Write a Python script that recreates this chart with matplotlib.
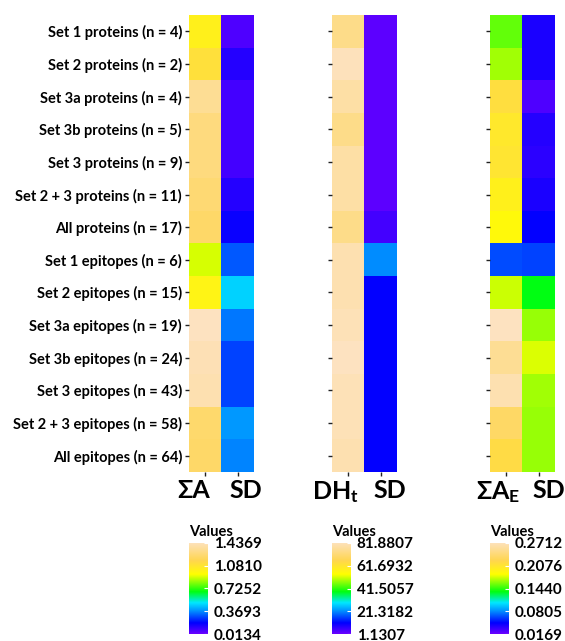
import numpy as np
import matplotlib
matplotlib.use("Agg")
import matplotlib.pyplot as plt
from matplotlib.colors import LinearSegmentedColormap

plt.rcParams['font.family'] = ['Lato', 'DejaVu Sans']
plt.rcParams['font.weight'] = 'bold'
plt.rcParams['mathtext.fontset'] = 'custom'
plt.rcParams['mathtext.rm'] = 'Lato:bold'
plt.rcParams['mathtext.it'] = 'Lato:bold'
plt.rcParams['mathtext.bf'] = 'Lato:bold'

rows = ["Set 1 proteins (n = 4)", "Set 2 proteins (n = 2)", "Set 3a proteins (n = 4)",
        "Set 3b proteins (n = 5)", "Set 3 proteins (n = 9)", "Set 2 + 3 proteins (n = 11)",
        "All proteins (n = 17)", "Set 1 epitopes (n = 6)", "Set 2 epitopes (n = 15)",
        "Set 3a epitopes (n = 19)", "Set 3b epitopes (n = 24)", "Set 3 epitopes (n = 43)",
        "Set 2 + 3 epitopes (n = 58)", "All epitopes (n = 64)"]

# heatmap 1: sum A and its SD
sum_a = [1.010, 1.095, 1.323, 1.266, 1.266, 1.238, 1.209,
         0.896, 0.996, 1.4369, 1.408, 1.394, 1.223, 1.209]
sum_a_sd = [0.060, 0.127, 0.075, 0.075, 0.080, 0.127, 0.170,
            0.298, 0.469, 0.341, 0.270, 0.270, 0.384, 0.355]

# heatmap 2: DHt and its SD
dht = [73.8, 81.07, 77.8, 73.8, 77.8, 77.8, 73.8,
       79.5, 79.5, 80.5, 81.88, 80.5, 80.5, 79.5]
dht_sd = [2.5, 2.5, 2.5, 2.5, 2.5, 2.5, 4.8,
          21.3, 10.8, 10.8, 10.8, 10.8, 10.8, 10.8]

# heatmap 3: sum A_E and its SD
sum_ae = [0.152, 0.164, 0.212, 0.203, 0.206, 0.195, 0.187,
          0.065, 0.172, 0.2712, 0.251, 0.264, 0.230, 0.215]
sum_ae_sd = [0.040, 0.040, 0.025, 0.037, 0.035, 0.040, 0.047,
             0.063, 0.134, 0.162, 0.175, 0.164, 0.162, 0.162]

col_labels = [["ΣA", "SD"], ["DH$_t$", "SD"], ["ΣA$_E$", "SD"]]

# colorbar ticks as printed in the legend
cbar_ticks = [
    ["0.0134", "0.3693", "0.7252", "1.0810", "1.4369"],
    ["1.1307", "21.3182", "41.5057", "61.6932", "81.8807"],
    ["0.0169", "0.0805", "0.1440", "0.2076", "0.2712"],
]

cmap = LinearSegmentedColormap.from_list("rainbow_peach", [
    (0.0, "#6a00ff"), (0.12, "#0000ff"), (0.25, "#0090ff"), (0.34, "#00e8ff"),
    (0.46, "#00ff10"), (0.65, "#ffff00"), (0.80, "#ffd650"), (1.0, "#fde2c0")])

fig = plt.figure(figsize=(5.65, 6.41), dpi=100)

datasets = [(sum_a, sum_a_sd), (dht, dht_sd), (sum_ae, sum_ae_sd)]
lefts = [189, 332, 490]
label_shift = [(-12, 8), (-13, 9), (-8, 10)]  # px offsets of the column labels

for i, (vals, sds) in enumerate(datasets):
    ticks = [float(t) for t in cbar_ticks[i]]
    vmin, vmax = ticks[0], ticks[-1]
    data = np.column_stack([vals, sds])
    ax = fig.add_axes([lefts[i] / 565, 1 - 472 / 641, 65 / 565, 457 / 641])
    ax.imshow(data, cmap=cmap, vmin=vmin, vmax=vmax, aspect='auto', interpolation='nearest')
    for s in ax.spines.values():
        s.set_visible(False)
    ax.set_xticks([0, 1])
    ax.set_xticklabels([])
    for j, lab in enumerate(col_labels[i]):
        ax.annotate(lab, xy=(j, 0), xycoords=('data', 'axes fraction'),
                    xytext=(label_shift[i][j] * 0.72, -5), textcoords='offset points',
                    ha='center', va='top', fontsize=18, fontweight='bold')
    ax.set_yticks(range(len(rows)))
    if i == 0:
        ax.set_yticklabels(rows, fontsize=10.5, fontweight='bold')
    else:
        ax.set_yticklabels([])
    ax.tick_params(length=3, width=1, color='#222222', pad=2)

    # colorbar
    cax = fig.add_axes([lefts[i] / 565, 1 - 634 / 641, 19 / 565, 91 / 641])
    grad = np.linspace(vmin, vmax, 256).reshape(-1, 1)
    cax.imshow(grad, cmap=cmap, vmin=vmin, vmax=vmax, aspect='auto', origin='lower',
               extent=[0, 1, vmin, vmax])
    cax.set_xticks([])
    cax.yaxis.tick_right()
    cax.set_yticks(ticks)
    cax.set_yticklabels(cbar_ticks[i], fontsize=11, fontweight='bold')
    cax.tick_params(axis='y', length=3, color='white', direction='in', pad=4)
    for s in cax.spines.values():
        s.set_visible(False)
    cax.set_title("Values", fontsize=10.5, fontweight='bold', loc='left', pad=5)

fig.savefig("out.png", dpi=100)
